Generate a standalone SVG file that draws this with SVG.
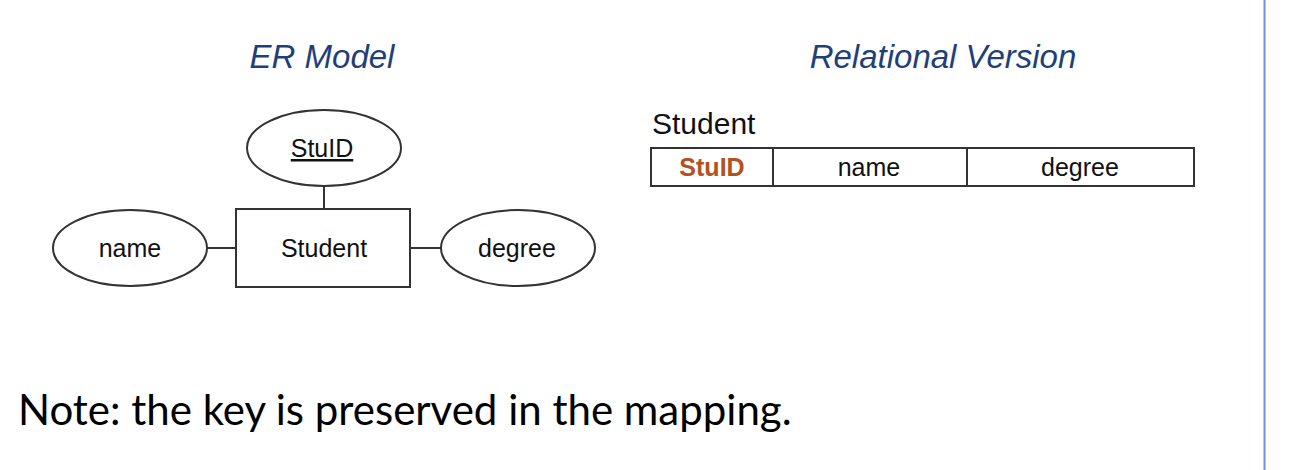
<svg xmlns="http://www.w3.org/2000/svg" width="1308" height="470" viewBox="0 0 1308 470">
<style>
.title{font-family:"Liberation Sans",Arial,sans-serif;font-style:italic;font-size:33px;fill:#1f3f7a;text-anchor:middle}
.lbl{font-family:"Liberation Sans",Arial,sans-serif;font-size:25px;fill:#111;text-anchor:middle}
.shape{fill:#fff;stroke:#333;stroke-width:2}
.conn{stroke:#333;stroke-width:2;fill:none}
.note{font-family:Lato,"Liberation Sans",sans-serif;font-size:42px;fill:#000}
</style>
<rect x="0" y="0" width="1308" height="470" fill="#fff"/>
<line x1="1264.5" y1="0" x2="1264.5" y2="470" stroke="#6b8ff5" stroke-width="2"/>
<text class="title" x="322" y="68">ER Model</text>
<text class="title" x="943" y="68">Relational Version</text>
<g id="connectors">
<line class="conn" x1="324" y1="186" x2="324" y2="209"/>
<line class="conn" x1="207" y1="248" x2="236" y2="248"/>
<line class="conn" x1="410" y1="248" x2="441" y2="248"/>
</g>
<g id="stuid">
<ellipse class="shape" cx="324" cy="148" rx="77" ry="38"/>
<text class="lbl" x="322" y="157" text-decoration="underline">StuID</text>
</g>
<g id="student">
<rect class="shape" x="236" y="209" width="174" height="78"/>
<text class="lbl" x="324" y="257">Student</text>
</g>
<g id="name">
<ellipse class="shape" cx="130" cy="248" rx="77" ry="38"/>
<text class="lbl" x="130" y="257">name</text>
</g>
<g id="degree">
<ellipse class="shape" cx="518" cy="248" rx="77" ry="38"/>
<text class="lbl" x="517" y="257">degree</text>
</g>
<g id="student-table">
<text class="lbl" x="652" y="134" style="text-anchor:start;font-size:30px">Student</text>
<rect class="shape" x="651" y="148" width="543" height="38"/>
<line class="conn" x1="773" y1="148" x2="773" y2="186"/>
<line class="conn" x1="967" y1="148" x2="967" y2="186"/>
<text class="lbl" x="712" y="176" style="font-weight:bold;fill:#b5501f">StuID</text>
<text class="lbl" x="869" y="176">name</text>
<text class="lbl" x="1080" y="176">degree</text>
</g>
<text class="note" x="18" y="425">Note: the key is preserved in the mapping.</text>
</svg>
